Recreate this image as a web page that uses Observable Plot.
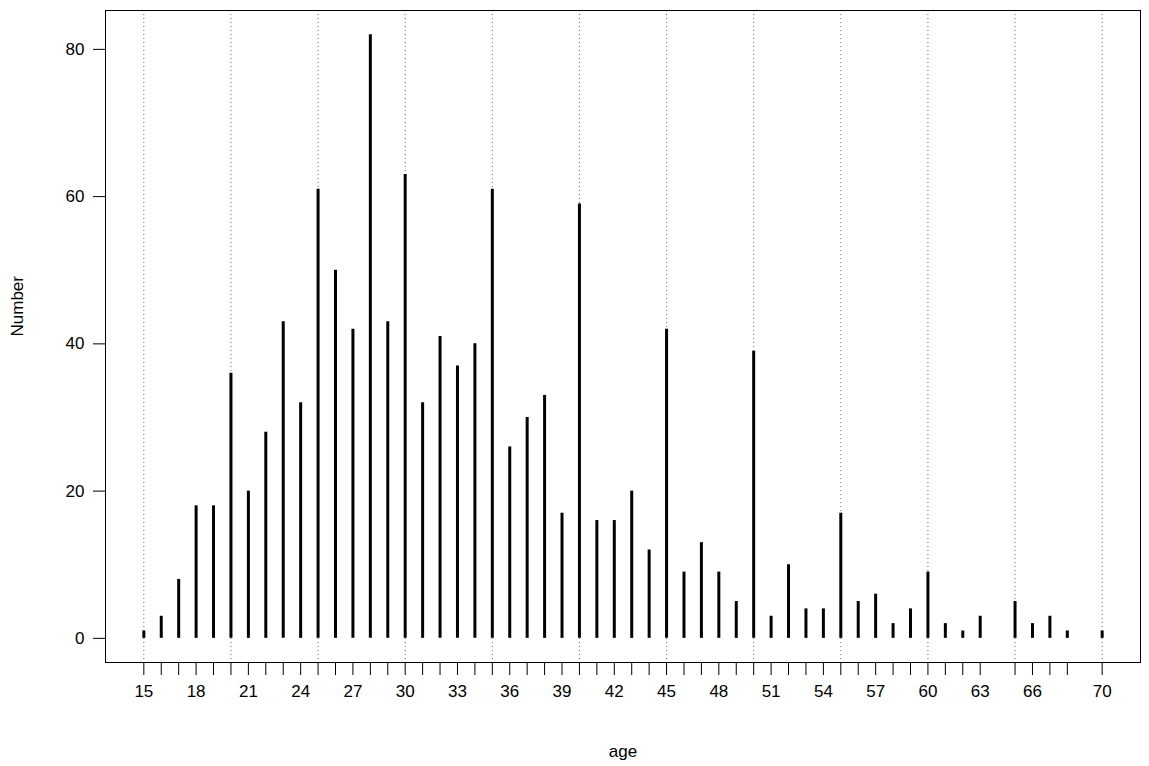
<!DOCTYPE html>
<html>
<head>
<meta charset="utf-8">
<script src="https://cdn.jsdelivr.net/npm/d3@7"></script>
<script src="https://cdn.jsdelivr.net/npm/@observablehq/plot@0.6"></script>
<style>
  html, body { margin: 0; padding: 0; background: #fff; }
  #chart svg { display: block; }
</style>
</head>
<body>
<div id="chart"></div>
<script>
const ages = [15,16,17,18,19,20,21,22,23,24,25,26,27,28,29,30,31,32,33,34,35,36,37,38,39,40,41,42,43,44,45,46,47,48,49,50,51,52,53,54,55,56,57,58,59,60,61,62,63,65,66,67,68,70];
const counts = [1,3,8,18,18,36,20,28,43,32,61,50,42,82,43,63,32,41,37,40,61,26,30,33,17,59,16,16,20,12,42,9,13,9,5,39,3,10,4,4,17,5,6,2,4,9,2,1,3,5,2,3,1,1];
const xLabels = [15,18,21,24,27,30,33,36,39,42,45,48,51,54,57,60,63,66,70];
const gridAges = [15,20,25,30,35,40,45,50,55,60,65,70];
const yTicks = [0,20,40,60,80];

const data = ages.map((a, i) => ({age: a, n: counts[i]}));

const chart = Plot.plot({
  width: 1149,
  height: 766,
  marginLeft: 105,
  marginRight: 9,
  marginTop: 10,
  marginBottom: 104,
  style: {fontFamily: "Liberation Sans, Arial, sans-serif", fontSize: "17px", color: "#000", background: "#fff"},
  x: {domain: [12.8, 72.2]},
  y: {domain: [-3.28, 85.28]},
  marks: [
    Plot.ruleX(gridAges, {stroke: "#666", strokeWidth: 1, strokeDasharray: "1,3"}),
    Plot.ruleX(data, {x: "age", y1: 0, y2: "n", stroke: "#000", strokeWidth: 3}),
    Plot.frame({stroke: "#000", strokeWidth: 1}),
    Plot.axisX({ticks: ages, tickSize: 13, tickPadding: 9, fontSize: 17, tickFormat: d => xLabels.includes(d) ? String(d) : "", label: null, stroke: "#000"}),
    Plot.axisY({ticks: yTicks, tickSize: 12, tickPadding: 9, fontSize: 17, label: null}),
    Plot.text(["age"], {frameAnchor: "bottom", dy: 94, text: d => d, fontSize: 17}),
    Plot.text(["Number"], {frameAnchor: "left", dx: -88, rotate: -90, text: d => d, fontSize: 17})
  ]
});
document.getElementById("chart").appendChild(chart);
</script>
</body>
</html>
